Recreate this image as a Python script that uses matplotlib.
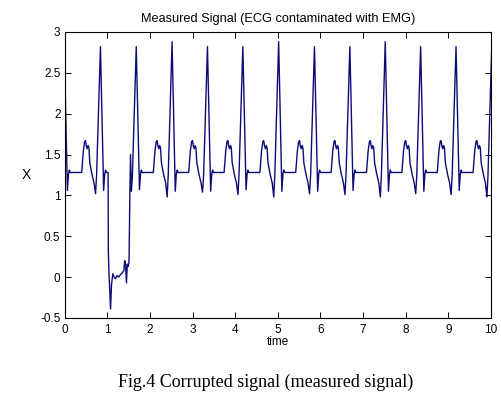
import numpy as np
import matplotlib.pyplot as plt

# one heartbeat: time from the R peak and value
beat_dt = [-0.44, -0.40, -0.37, -0.35, -0.33, -0.31, -0.29, -0.27, -0.25, -0.20, -0.15, -0.115, -0.09, 0.0, 0.075, 0.10, 0.12, 0.14]
beat_v = [1.28, 1.55, 1.66, 1.67, 1.60, 1.57, 1.61, 1.58, 1.40, 1.26, 1.15, 1.00, 1.25, 2.85, 1.05, 1.26, 1.31, 1.28]
Q_IDX, R_IDX, S_IDX = 11, 13, 14

# R peak times and per-beat heights / dips
r_times = [-0.01, 0.84, 1.68, 2.52, 3.35, 4.18, 5.02, 5.86, 6.69, 7.52, 8.35, 9.18, 10.02]
r_heights = [2.85, 2.82, 2.82, 2.88, 2.82, 2.82, 2.88, 2.82, 2.82, 2.88, 2.82, 2.82, 2.85]
q_dips = [1.00, 1.02, 1.05, 0.98, 1.04, 1.01, 0.98, 1.02, 1.01, 0.98, 1.02, 1.01, 0.98]
s_dips = [1.06, 1.06, 1.07, 1.05, 1.05, 1.07, 1.05, 1.05, 1.06, 1.05, 1.05, 1.06, 1.05]

# EMG burst that replaces the signal between ~1.02 s and ~1.55 s
emg_t = [1.02, 1.025, 1.04, 1.06, 1.077, 1.10, 1.13, 1.16, 1.19, 1.23, 1.27, 1.31,
         1.35, 1.39, 1.41, 1.43, 1.45, 1.47, 1.49, 1.51, 1.53, 1.545]
emg_v = [1.28, 0.32, 0.04, -0.17, -0.39, -0.09, 0.04, 0.0, -0.02, 0.02, 0.0, 0.03,
         0.05, 0.08, 0.20, 0.14, -0.07, 0.16, 0.13, 0.18, 1.00, 1.50]

# build the trace
t = []
x = []
for rt, rh, qd, sd in zip(r_times, r_heights, q_dips, s_dips):
    vals = list(beat_v)
    vals[R_IDX] = rh
    vals[Q_IDX] = qd
    vals[S_IDX] = sd
    for dt, v in zip(beat_dt, vals):
        tt = rt + dt
        if emg_t[0] <= tt < 1.56:
            continue
        t.append(tt)
        x.append(v)
t += emg_t
x += emg_v
order = np.argsort(t)
t = np.array(t)[order]
x = np.array(x)[order]

fig = plt.figure(figsize=(5.01, 3.94), dpi=100)
ax = fig.add_axes([0.129, 0.193, 0.851, 0.726])

ax.plot(t, x, color='#0c0c78', linewidth=1.0)

ax.set_xlim(0, 10)
ax.set_ylim(-0.5, 3)
ax.set_xticks(range(0, 11))
ax.set_yticks([-0.5, 0, 0.5, 1, 1.5, 2, 2.5, 3])
ax.set_yticklabels(['-0.5', '0', '0.5', '1', '1.5', '2', '2.5', '3'])
ax.tick_params(direction='in', top=True, right=True, length=4, width=0.7, labelsize=8.5, pad=3)
ax.tick_params(axis='x', pad=4)
for s in ax.spines.values():
    s.set_linewidth(0.8)

ax.set_title('Measured Signal (ECG contaminated with EMG)', fontsize=9.2, pad=7, fontname='Liberation Sans')
ax.set_xlabel('time', fontsize=8.5, labelpad=0, fontname='Liberation Sans')
ax.set_ylabel('X', fontsize=10, labelpad=10, fontname='Liberation Sans', rotation=0, va='center')
for lab in ax.get_xticklabels() + ax.get_yticklabels():
    lab.set_fontname('Liberation Sans')

fig.text(0.531, 0.03, 'Fig.4 Corrupted signal (measured signal)', ha='center', va='center',
         fontsize=13, fontname='Liberation Serif')

fig.savefig('out.png', dpi=100)
